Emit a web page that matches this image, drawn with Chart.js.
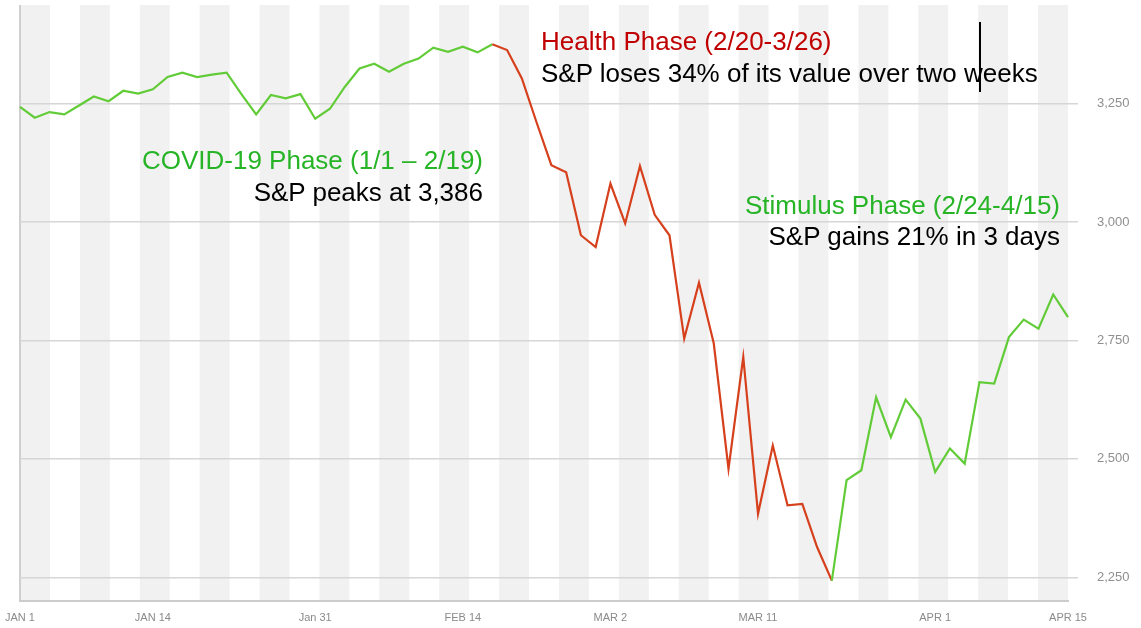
<!DOCTYPE html>
<html>
<head>
<meta charset="utf-8">
<script src="https://cdn.jsdelivr.net/npm/chart.js@4/dist/chart.umd.min.js"></script>
<style>
    html, body { margin: 0; padding: 0; background: #fff; }
    #wrap { position: relative; width: 1141px; height: 628px; overflow: hidden; }
    .note {
        position: absolute;
        font-family: "Liberation Sans", Arial, sans-serif;
        font-size: 26px;
        line-height: 26px;
        white-space: nowrap;
    }
    .green { color: #27b427; }
    .red { color: #c00000; }
    .black { color: #000; }
    .right { text-align: right; }
    #cursor { position: absolute; left: 979px; top: 22px; width: 2px; height: 70px; background: #000; }
</style>
</head>
<body>
<div id="wrap">
    <canvas id="chart" width="1141" height="628"></canvas>

    <div class="note red" style="left:541px; top:28px;">Health Phase (2/20-3/26)</div>
    <div class="note black" style="left:541px; top:60px;">S&amp;P loses 34% of its value over two weeks</div>

    <div class="note green right" style="right:658px; top:147px;">COVID-19 Phase (1/1 – 2/19)</div>
    <div class="note black right" style="right:658px; top:179px;">S&amp;P peaks at 3,386</div>

    <div class="note green right" style="right:81px; top:192px;">Stimulus Phase (2/24-4/15)</div>
    <div class="note black right" style="right:81px; top:223px;">S&amp;P gains 21% in 3 days</div>

    <div id="cursor"></div>
</div>
<script>
(function () {
    'use strict';

    // trading days, 2 Jan to 15 Apr 2020
    const dates = [
        '1/2', '1/3', '1/6', '1/7', '1/8', '1/9', '1/10', '1/13', '1/14', '1/15', '1/16', '1/17',
        '1/21', '1/22', '1/23', '1/24', '1/27', '1/28', '1/29', '1/30', '1/31',
        '2/3', '2/4', '2/5', '2/6', '2/7', '2/10', '2/11', '2/12', '2/13', '2/14',
        '2/18', '2/19', '2/20', '2/21', '2/24', '2/25', '2/26', '2/27', '2/28',
        '3/2', '3/3', '3/4', '3/5', '3/6', '3/9', '3/10', '3/11', '3/12', '3/13',
        '3/16', '3/17', '3/18', '3/19', '3/20', '3/23', '3/24', '3/25', '3/26', '3/27',
        '3/30', '3/31', '4/1', '4/2', '4/3', '4/6', '4/7', '4/8', '4/9', '4/13', '4/14', '4/15'
    ];

    // S&P 500 close
    const closeValues = [
        3243, 3220, 3232, 3227, 3246, 3265, 3255, 3277, 3271, 3280, 3306, 3315,
        3306, 3311, 3315, 3270, 3227, 3268, 3261, 3270, 3218,
        3239, 3285, 3324, 3334, 3317, 3334, 3345, 3368, 3359, 3370,
        3358, 3375, 3363, 3303, 3210, 3120, 3105, 2972, 2947,
        3081, 2997, 3118, 3015, 2972, 2754, 2872, 2744, 2479, 2715,
        2384, 2528, 2402, 2405, 2314, 2243, 2455, 2476, 2630, 2546,
        2625, 2585, 2472, 2522, 2490, 2662, 2659, 2757, 2794, 2775, 2847, 2799
    ];

    // x labels and where the source puts them
    const tickIndex = [0, 9, 20, 30, 40, 50, 62, 71];
    const tickText = ['JAN 1', 'JAN 14', 'Jan 31', 'FEB 14', 'MAR 2', 'MAR 11', 'APR 1', 'APR 15'];

    const yTicks = [2250, 2500, 2750, 3000, 3250];

    // health phase runs from the peak to the low
    const healthStart = 32;
    const healthEnd = 55;

    const GREEN = '#62cc38';
    const RED = '#d6401c';

    // alternating grey columns + left edge line
    const stripes = {
        id: 'stripes',
        beforeDraw(chart) {
            const ctx = chart.ctx;
            const a = chart.chartArea;
            const period = a.width / 17.5;
            ctx.save();
            ctx.fillStyle = '#f1f1f1';
            for (let x = a.left; x < a.right; x += period) {
                ctx.fillRect(x, a.top, Math.min(period / 2, a.right - x), a.bottom - a.top);
            }
            ctx.strokeStyle = '#cfcfcf';
            ctx.lineWidth = 2;
            ctx.beginPath();
            ctx.moveTo(a.left, a.top);
            ctx.lineTo(a.left, a.bottom);
            ctx.stroke();
            ctx.restore();
        }
    };

    const fontFamily = '"Liberation Sans", Arial, sans-serif';

    // stop chart.js from reserving room for half-labels at the ends
    const noEdgePadding = function (scale) {
        scale.paddingTop = 0;
        scale.paddingBottom = 0;
        scale.paddingLeft = 0;
        scale.paddingRight = 0;
    };

    const config = {
        type: 'line',
        data: {
            labels: dates,
            datasets: [{
                data: closeValues,
                borderColor: GREEN,
                borderWidth: 2.2,
                pointRadius: 0,
                tension: 0,
                segment: {
                    borderColor: function (c) {
                        return (c.p0DataIndex >= healthStart && c.p0DataIndex < healthEnd) ? RED : GREEN;
                    }
                }
            }]
        },
        options: {
            responsive: false,
            animation: false,
            devicePixelRatio: 1,
            layout: { padding: { left: 20, top: 5, right: 0, bottom: 0 } },
            plugins: {
                legend: { display: false },
                tooltip: { enabled: false }
            },
            scales: {
                x: {
                    type: 'category',
                    offset: false,
                    grid: { display: false, drawTicks: false },
                    border: { display: true, color: '#cccccc', width: 2 },
                    ticks: {
                        autoSkip: false,
                        maxRotation: 0,
                        padding: 10,
                        color: '#8a8a8a',
                        font: { family: fontFamily, size: 11 },
                        callback: function (val, i) {
                            const k = tickIndex.indexOf(i);
                            return k >= 0 ? tickText[k] : null;
                        }
                    },
                    afterFit: function (scale) {
                        scale.height = 27;
                        noEdgePadding(scale);
                    }
                },
                y: {
                    type: 'linear',
                    position: 'right',
                    min: 2200,
                    max: 3458,
                    afterBuildTicks: function (scale) {
                        scale.ticks = yTicks.map(v => ({ value: v }));
                    },
                    grid: { color: '#d6d6d6', lineWidth: 1.5, tickLength: 10 },
                    border: { display: false },
                    ticks: {
                        padding: 19,
                        color: '#8f8f8f',
                        font: { family: fontFamily, size: 13 },
                        callback: v => v.toLocaleString('en-US')
                    },
                    afterFit: function (scale) {
                        scale.width = 73;
                        noEdgePadding(scale);
                    }
                }
            }
        },
        plugins: [stripes]
    };

    new Chart(document.getElementById('chart').getContext('2d'), config);
})();
</script>
</body>
</html>
